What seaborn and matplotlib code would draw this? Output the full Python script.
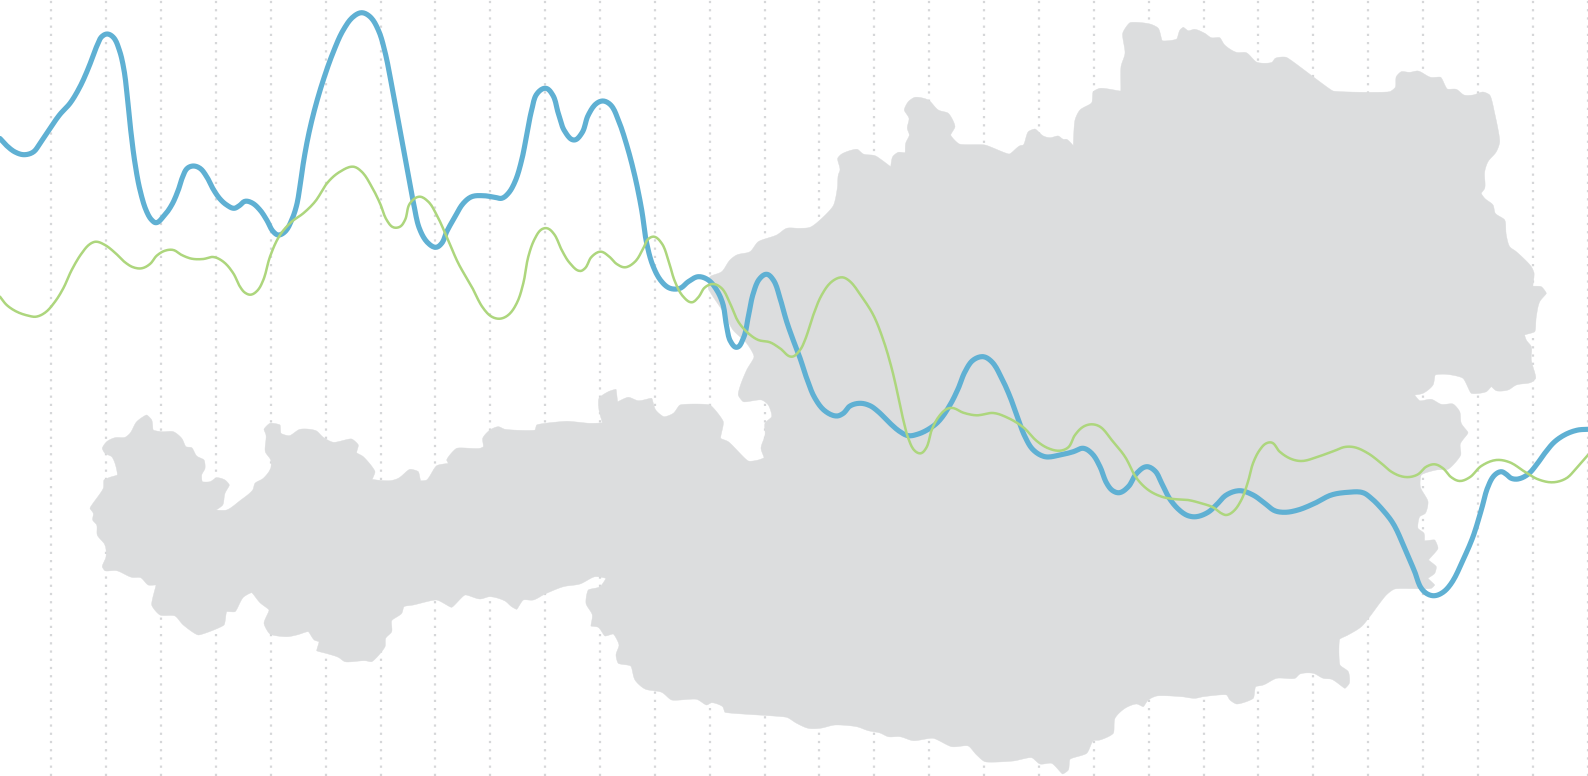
import numpy as np
import matplotlib
matplotlib.use("Agg")
import matplotlib.pyplot as plt
import seaborn as sns

# ── Data (x, y in picture units) ───────────────────────────
blue_pts = [(0,138.5),(6.7,145.7),(15,152),(24,154.7),(33.3,152),(40,143.3),(50,128.3),(60,114.3),(70,103.3),
    (80,86.7),(88.3,68.3),(97.3,45),(101.7,36.7),(107.3,34),(113.3,37.3),(119.3,50),(124,70),(127.3,96.7),
    (130.7,130),(135,163.3),(140,190),(146.7,211.7),(151.7,220),(156,222.7),(163.3,216.7),(171.7,205),
    (178.3,190),(182.7,176.7),(187.3,168.3),(193.3,166),(200,168.3),(206.7,176.7),(213.3,189.3),(220,199),
    (226.7,205),(234,208.3),(239.3,205.7),(245,201.3),(251.7,202.7),(260,210),(266.7,220),(273.3,231.7),
    (278.3,235),(285,231.7),(291.7,220),(296.7,205),(300,186),(303.5,162),(308.5,135),(315,108),
    (323.3,80),(333.3,52),(343.3,30),(353.3,16.7),(361.7,12.7),(370,16.7),(378.3,30),(385,52),(390.7,80),
    (395.5,106),(400,130),(405.5,160),(409.5,182),(413.5,203),(420,230),(428.3,243.3),(436,247.3),(441.7,243.3),
    (446.7,231.7),(455,216.7),(463.3,203.3),(471.7,196.7),(483.3,195.7),(495,197.3),(501.7,198.3),(508.3,193.3),
    (515,181.7),(521.7,160),(526.7,135),(531.7,110),(537.3,93.3),(545.7,88.3),(552.7,95),(558.3,113.3),
    (565,131.7),(574,140),(581.7,133.3),(588.3,115),(596.7,103.3),(603.3,101),(610.7,105),(618.3,120),
    (626.7,145),(635,176.7),(641.7,210),(646.7,243.3),(653.3,266.7),(661.7,281.7),(670,288.3),(680,288.3),
    (688.3,281.7),(698.3,276.7),(708.3,280),(716.7,290),(722.7,303.3),(726.7,326.7),(730.7,341.7),(736.7,347.3),
    (743.3,338.3),(748.3,316.7),(753.3,293.3),(760,278.3),(766.7,274.3),(773.3,280),(780,298.3),(786.7,321.7),
    (795,345),(800,358),(806.7,378.3),(815,398.3),(825,411),(836.7,416),(843.3,413.3),(850,406),(860,403.3),
    (870,405.7),(878.3,411.7),(890,423.3),(900,431.7),(908.3,435.7),(918.3,434),(928.3,429.3),(938.3,421.7),
    (950,405),(958.3,388.3),(965,371.7),(973.3,360),(983.3,356.7),(991.7,361.7),(1001.7,378.3),(1010,396.7),
    (1016.7,415),(1025,436.7),(1033.3,450),(1045,456.7),(1060,455),(1073.3,451.7),(1083.3,448.3),(1091.7,453.3),
    (1100,466.7),(1106.7,483.3),(1112.7,490.7),(1119.3,492.7),(1128.3,486.7),(1136.7,473.3),(1146.7,466.7),
    (1155,471),(1161.7,483.3),(1170,499.3),(1180,510.7),(1188,515.7),(1196.3,516.7),(1208,512.3),(1216.3,505),
    (1226.3,495),(1239.7,490.7),(1253,495),(1264.7,503.3),(1274.7,510.7),(1284.7,512.3),(1298,510),(1314.7,503.3),
    (1331.3,495),(1348,492.3),(1363,492.7),(1371.3,498.3),(1381.3,508.3),(1393,523.3),(1404.7,548.3),(1414.7,571.7),
    (1421.3,588.3),(1428,594.3),(1434.7,595.7),(1443,592.3),(1451.3,583.3),(1463,560),(1473,536.7),(1481.3,510),
    (1488,486.7),(1494.7,475),(1501.3,471.7),(1506.3,474.3),(1511.3,478.3),(1518,479),(1528,474.3),(1536.3,465),
    (1544.7,453.3),(1554.7,441.7),(1566.3,434),(1578,430),(1588,429.3)]

green_pts = [(0,296.7),(6.7,305),(16.7,311.7),(28.3,315.7),(36,316.7),(45,312.7),(55,301.7),(63.3,288.3),(71.7,270),
    (81.7,253.3),(90,244),(96,241.7),(105,245),(115,252.7),(125,262.3),(133.3,267.3),(141.7,268.3),(150,264),
    (156.7,255.7),(165,250.7),(173.3,250),(181.7,255),(191.7,258.7),(203.3,259),(213.3,257),(223.3,261.7),
    (233.3,273.3),(240,286.7),(245,292.7),(250.7,294.7),(257.3,290.7),(263.3,280),(270,256.7),(280,235),
    (291.7,221.7),(303.3,213.3),(315,201.7),(328.3,181.7),(340,171.7),(353.3,166.7),(361.7,171.7),(371.7,186.7),
    (380,203.3),(386.7,220),(393.3,227.3),(400,226.7),(405,220),(410,203.3),(419.3,196.7),(428.3,201.7),
    (436.7,215),(446.7,236.7),(458.3,263.3),(471.7,286.7),(483.3,308.3),(491.7,316.7),(500,318.7),(508.3,315),
    (516.7,303.3),(523.3,283.3),(528.3,256.7),(535,238.3),(541.7,229.3),(547.3,228.3),(554,234),(561.7,250),
    (570,263.3),(580,271),(585,268.3),(591.7,256.7),(600.7,251.7),(609.3,256.7),(616.7,264),(625,267.3),
    (635,261.7),(643.3,248.3),(648.3,239),(654,236.7),(661.7,243.3),(668.3,260),(675,281.7),(683.3,296.7),
    (691.7,302.3),(698.3,297.3),(705,287.3),(713.3,284),(721.7,288.3),(730,303.3),(738.3,321.7),(748.3,333.3),
    (758.3,340),(770,342.3),(780,348.3),(791.7,356.7),(800,350),(805,340),(813.3,315),(821.7,295),(831.7,281.7),
    (841.7,277.3),(848.3,280),(861.7,296.7),(873.3,315),(883.3,340),(891.7,368.3),(898.3,396.7),(903.3,420),
    (908.3,438.3),(915,451),(920.7,453.3),(926,448.3),(931.7,430),(938.3,417.3),(946.7,409),(952.7,408),
    (963.3,412.7),(976.7,415.3),(993.3,413),(1006.7,417.3),(1023.3,427.3),(1036.7,441),(1048.3,448.3),(1060,450.7),
    (1068.3,447.3),(1075,435),(1083.3,426.7),(1091.7,424.3),(1100,426.7),(1111.7,440),(1125,456.7),(1136.7,478.3),
    (1148.3,490),(1161.7,496.7),(1173.3,499),(1188,500),(1201.3,503.3),(1213,507.3),(1221.3,513.3),(1226.3,515),
    (1233,511.7),(1241.3,500),(1248,481.7),(1253,463.3),(1259.7,450),(1266.3,443.3),(1272,442.7),(1279.7,451.7),
    (1291.3,459),(1302,461),(1318,456.7),(1334.7,450.7),(1344.7,447),(1354.7,447.3),(1368,453.3),(1381.3,463.3),
    (1391.3,471.7),(1401.3,476.3),(1409.7,477),(1418,474.3),(1426.3,466.7),(1434.7,464.3),(1443,468.3),(1451.3,477.3),
    (1459.7,481),(1469.7,477.3),(1481.3,466),(1496.3,460),(1509.7,462.3),(1524.7,471.7),(1538,479.3),(1553,482.3),
    (1566.3,478.3),(1576.3,468.3),(1588,455)]

# country outline, clockwise from the western tip
map_pts = [(90,508.3),(103.3,488.3),(104,480),(110,477.3),(117.3,475),(115,463.3),(111.7,456.7),(105,453.3),(102.3,448.3),
    (106.7,441.7),(115,437.7),(125,437.3),(130,433.3),(136.7,421.7),(146.7,415),(151.7,420),(153.3,430),(161.7,431.7),
    (173.3,431.7),(181.7,438.3),(186,446.7),(191.7,447.7),(196.7,456),(204,460),(205,468.3),(201.7,475),(202.3,481.7),
    (210,481.7),(216.7,477.7),(225,480),(229.3,485),(225,493.3),(222.7,505),(216,510),(226.7,510),(240,500.7),
    (252.7,490),(255,483.3),(263.3,478.3),(270.7,468.3),(270.7,460),(265.3,451.7),(266,435),(264,429.3),(270,423.3),
    (280,425),(281,433.3),(289.3,435.7),(300,429.3),(316,430.7),(323.3,437.3),(333.3,442.3),(351.7,439),(358.3,445),
    (356.7,452.7),(363.3,456.7),(375,471.7),(372.3,479.3),(390,480.7),(398.3,478.3),(410,469.3),(418.3,471.7),
    (420.7,480.7),(426.7,480),(436.7,465.7),(448.3,463.3),(446.7,460),(456.7,448.3),(480,448.3),(483.3,446.7),
    (482.7,438.3),(490,430),(498.3,426.7),(505,429.3),(535,430),(536.7,425),(566.7,421.3),(590,423.3),(602.3,422.7),
    (599,410),(599,398.3),(608.3,391.7),(616,389.3),(617.7,401.7),(628.3,397.3),(638.3,400.7),(651.7,398.3),
    (655.7,410),(664,416.7),(673.3,413.3),(680,405),(710,405),(723.3,421.7),(720.7,438.3),(728.3,441.7),(748.3,461),
    (758.3,460),(764,457.7),(761,448.3),(765,435),(765,423.3),(771.7,416.7),(768.3,405),(761.7,400),(743.3,401.7),
    (738.3,395),(740,386.7),(746.7,370),(754,356.7),(746.7,343.3),(733,330),(722,310),(708.3,288.3),(710,276.7),
    (721.7,271.7),(730,260),(736.7,255),(750,251.7),(758.3,241.7),(776.7,235),(786.7,228.3),(800,228.3),(810,227.3),
    (820,220),(833.3,205.7),(837.3,188.3),(838.3,175),(840,170),(837.7,158.3),(841.7,154),(857.3,149.3),(863.3,154),
    (875,155.7),(881.7,160),(890.7,166.7),(892.7,156.7),(898.3,152.3),(905,152.7),(905.7,143.3),(909.3,135),
    (907.3,128.3),(909,118.3),(904.3,110),(908.3,101.7),(915,97.3),(928.3,100),(938.3,110),(948.3,113.3),(955,126.7),
    (950.7,135),(959.3,144),(985,145),(1009.3,154),(1020,145.7),(1023.3,145),(1028.3,131.7),(1035,129),(1043.3,136),
    (1050,137.7),(1058.3,136),(1063.3,139.3),(1066.7,139.3),(1073.3,145.7),(1075,120),(1080,110),(1091.7,102.7),
    (1093.3,91.7),(1100,88.3),(1120.7,91),(1121,66.7),(1125,53.3),(1122.7,33.3),(1130,22.7),(1150,24),(1158.3,28.3),
    (1162.3,40.7),(1176.7,39),(1180,30),(1183.3,27.3),(1188.3,30.7),(1194.7,29.3),(1204.7,33.3),(1211.3,37.7),
    (1219.7,37.7),(1224.7,45),(1236.3,52.3),(1246.3,52.7),(1257,62.3),(1272,62.3),(1275.3,58.3),(1286.3,57.3),
    (1333,91),(1389.7,91.7),(1395.3,87.3),(1396.3,76.7),(1401.3,71.7),(1409.7,72.3),(1418,71),(1430.7,77.3),
    (1440.7,77.3),(1447.3,89),(1456.3,89.3),(1464,95),(1473,95),(1483,92),(1489.7,95),(1494.7,113.3),(1499.7,141.7),
    (1496.3,151.7),(1488,161.7),(1484.7,171.7),(1484.7,188.3),(1481.3,193.3),(1484.7,198.3),(1493,205),(1495.3,213.3),
    (1504.7,220),(1506.3,235),(1509.7,246.7),(1516.3,251.7),(1531.3,266.7),(1534,273.3),(1533,286),(1541.3,286.7),
    (1546.3,293.3),(1539.7,301.7),(1536.3,316.7),(1534.7,331.7),(1524.7,335),(1526.3,340),(1531.3,346.7),(1531.3,360),
    (1535.7,378.3),(1531.3,382.3),(1516.3,385),(1508,390),(1496.3,390.7),(1491.3,386.7),(1486.3,391.7),(1471.3,393.3),
    (1463,378.3),(1446.3,374.3),(1435.3,375),(1433,385),(1423,393.3),(1414.7,395),(1419.7,400.7),(1431.3,399.3),
    (1441.3,404.3),(1453,404),(1459.7,411.7),(1461.3,423.3),(1468,432.7),(1460.3,444),(1460.7,455),(1448,469.3),
    (1436.3,470),(1421.3,475),(1420.3,486.7),(1428,501.7),(1425.3,513.3),(1419.7,516.7),(1418,528.3),(1424,533.3),
    (1424.7,540.7),(1434.7,540),(1438,548.3),(1428.7,560),(1436.3,566.7),(1434.7,573.3),(1428,578.3),(1434.7,585),
    (1431.3,588.3),(1394.7,589),(1386.3,595),(1369.7,616.7),(1361.3,626.7),(1348,635),(1339.7,639.3),(1340,665),
    (1348.3,671.7),(1349.3,683.3),(1345,688.3),(1331.7,679.3),(1323.3,678.3),(1313.3,673.3),(1300,674),(1295,678.3),
    (1276.7,678.3),(1263.3,685),(1255.7,686.7),(1253.3,698.3),(1236.7,704),(1230,700),(1226.7,695),(1203.3,696.7),
    (1195,698.3),(1181.7,696.7),(1156.7,696),(1148.3,700),(1143.3,706.7),(1136.7,704),(1125,708.3),(1115,718.3),
    (1113.3,733.3),(1100,740),(1093.3,740.7),(1086.7,753.3),(1070,759.3),(1068.3,770),(1062.7,774),(1051.7,763.3),
    (1040,764),(1031.7,757.7),(1013.3,761),(985,761.7),(976.7,755),(968.3,746),(951.7,746.7),(933.3,738.3),
    (913.3,740.7),(900,736.7),(888.3,736.7),(880,733),(868.3,730.7),(856.7,726.7),(835,725),(820,728.3),(808.3,728.3),
    (796.7,723.3),(786.7,717.3),(725,712.3),(722.7,706.7),(711.7,702.7),(706.7,705),(696.7,699.3),(671.7,700),
    (661.7,692.3),(645,689),(635,680),(630.7,666),(618.3,663.3),(616,655),(619,645),(613.3,634),(605,636),(598.3,627.3),
    (591,626),(592.3,615),(586,603.3),(588.3,590),(600,586.7),(606,578.3),(595,576.7),(580,584),(563.3,586.7),(545,594),
    (533.3,600),(523.3,600),(516.7,609.3),(511.7,606.7),(505,601),(490,596.7),(480,599),(465,595),(451.7,607.3),
    (436.7,600),(413.3,605),(404,606.7),(401.7,613.3),(391.7,620.7),(391.7,631.7),(385.7,638.3),(385,646.7),
    (371.7,661.7),(365,660.7),(345,661.7),(338.3,657.3),(328.3,654),(316.7,650.7),(319,641.7),(314.3,640),(308.3,631.7),
    (296.7,635),(286.7,636.7),(270,634),(264,623.3),(269,610),(260,602.7),(251.7,592.7),(243.3,597.3),(235,611.7),
    (226.7,611.7),(224,625),(198.3,635),(183.3,625),(175,616),(160,615),(151.7,605),(156,585),(148.3,585),(140.7,577.7),
    (131.7,577.3),(116.7,570.7),(105,570.7),(102.3,566.7),(106,556.7),(105,545),(97.3,535),(96.7,525),(92.7,520),
    (93.3,513.3)]

blue_x, blue_y = np.array(blue_pts).T
green_x, green_y = np.array(green_pts).T
map_x, map_y = np.array(map_pts).T


# ── Curve helper: rounds the drawn line through the read points ──
# corner > 0 keeps sharp turns sharp instead of bulging around them
def rounded(x, y, max_handle, closed=False, corner=0, n=10):
    p = np.column_stack([x, y])
    if closed:
        p = np.vstack([p, p[:1]])
    d = np.diff(p, axis=0)
    L = np.hypot(d[:, 0], d[:, 1])
    u = d / L[:, None]
    t = np.zeros_like(p)
    t[1:-1] = u[:-1] + u[1:]
    t[0] = u[-1] + u[0] if closed else u[0]
    t[-1] = t[0] if closed else u[-1]
    norm = np.hypot(t[:, 0], t[:, 1])
    # norm/2 is 1 on a straight run and falls towards 0 on a hairpin
    t = t / np.maximum(norm, 1e-9)[:, None] * (np.minimum(norm / 2, 1) ** corner)[:, None]
    h = np.minimum(L / 3, max_handle)[:, None]
    s = np.linspace(0, 1, n, endpoint=False)[None, :, None]
    p0, p3 = p[:-1, None, :], p[1:, None, :]
    p1 = p0 + (t[:-1] * h)[:, None, :]
    p2 = p3 - (t[1:] * h)[:, None, :]
    c = ((1 - s)**3 * p0 + 3 * (1 - s)**2 * s * p1 + 3 * (1 - s) * s**2 * p2 + s**3 * p3).reshape(-1, 2)
    c = np.vstack([c, p[-1:]])
    return c[:, 0], c[:, 1]


# ── Plot ───────────────────────────────────────────
sns.set_theme(style="white")
fig = plt.figure(figsize=(15.88, 7.76), dpi=100)
ax = fig.add_axes([0, 0, 1, 1])

mx, my = rounded(map_x, map_y, 5, closed=True, corner=5)
ax.fill(mx, my, color="#dcddde", lw=0.3, zorder=1)

bx, by = rounded(blue_x, blue_y, 14)
gx, gy = rounded(green_x, green_y, 14)
sns.lineplot(x=bx, y=by, sort=False, estimator=None, color="#5fb0d3", lw=3.7,
             solid_joinstyle="round", ax=ax, zorder=3)
sns.lineplot(x=gx, y=gy, sort=False, estimator=None, color="#add67d", lw=1.8,
             solid_joinstyle="round", ax=ax, zorder=4)

# dotted vertical grid behind the country
ax.set_xticks(51.3 + 54.87 * np.arange(29))
ax.set_axisbelow(True)
ax.grid(axis="x", color="#d6d7d9", lw=1.6, linestyle=(0, (1.0, 2.7)))
ax.tick_params(length=0, labelbottom=False, labelleft=False)

ax.set_xlim(0, 1588)
ax.set_ylim(776, 0)
sns.despine(ax=ax, left=True, bottom=True)

plt.savefig("out.png", dpi=100)
plt.close()
